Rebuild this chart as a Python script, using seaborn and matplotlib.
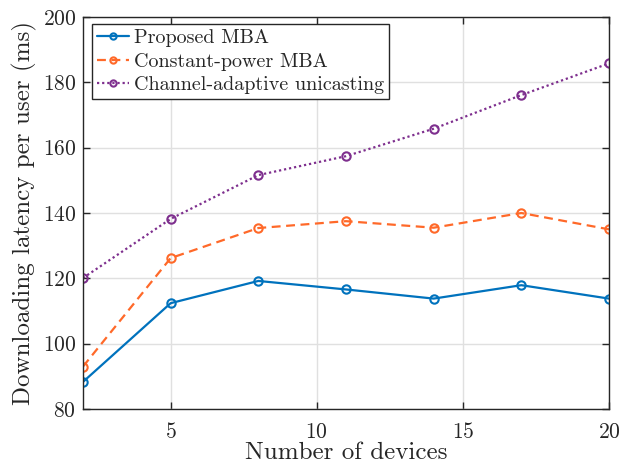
import matplotlib
matplotlib.use("Agg")
import matplotlib.pyplot as plt
import seaborn as sns
import pandas as pd

# Latency per user versus number of devices for the three schemes
devices = [2, 5, 8, 11, 14, 17, 20]
proposed_mba = [88.3, 112.4, 119.2, 116.6, 113.8, 117.9, 113.8]
constant_power_mba = [93.0, 126.2, 135.4, 137.5, 135.5, 140.0, 135.0]
channel_adaptive = [120.1, 138.2, 151.6, 157.4, 165.8, 176.1, 185.8]

series_names = ["Proposed MBA", "Constant-power MBA", "Channel-adaptive unicasting"]
x_ticks = [5, 10, 15, 20]
y_ticks = [80, 100, 120, 140, 160, 180, 200]

df = pd.DataFrame({
    "devices": devices * 3,
    "latency": proposed_mba + constant_power_mba + channel_adaptive,
    "scheme": [series_names[0]] * len(devices)
              + [series_names[1]] * len(devices)
              + [series_names[2]] * len(devices),
})

sns.set_style("ticks")
plt.rcParams["font.family"] = ["cmr10", "DejaVu Serif"]
plt.rcParams["mathtext.fontset"] = "cm"
plt.rcParams["axes.formatter.use_mathtext"] = True

palette = {series_names[0]: "#0072BD",
           series_names[1]: "#FF6929",
           series_names[2]: "#7E2F8E"}
dashes = {series_names[0]: "",
          series_names[1]: (4, 2.5),
          series_names[2]: (1, 1.3)}

fig = plt.figure(figsize=(6.25, 4.66), dpi=100)
ax = fig.add_axes([0.1328, 0.1223, 0.8416, 0.8412])

sns.lineplot(data=df, x="devices", y="latency", hue="scheme", style="scheme",
             palette=palette, dashes=dashes, markers={n: "o" for n in series_names},
             markersize=6, markerfacecolor="none", markeredgewidth=1.5,
             linewidth=1.6, ax=ax, legend=True)

# open circle markers in each series colour
for line, name in zip(ax.lines, series_names):
    line.set_markeredgecolor(palette[name])
    line.set_markerfacecolor("none")

ax.set_xlim(2, 20)
ax.set_ylim(80, 200)
ax.set_xticks(x_ticks)
ax.set_yticks(y_ticks)
ax.grid(True, color="#e0e0e0", linewidth=1.0)
ax.set_axisbelow(True)
for side in ["top", "right", "left", "bottom"]:
    ax.spines[side].set_visible(True)
    ax.spines[side].set_color("#262626")
    ax.spines[side].set_linewidth(1.0)
ax.tick_params(direction="in", length=5, width=1.0, top=True, right=True,
               labelsize=15.5, colors="#262626", labelcolor="#262626")
ax.tick_params(axis="x", pad=9.5)
ax.tick_params(axis="y", pad=5)

ax.set_xlabel("Number of devices", fontsize=18, color="#262626", labelpad=0)
ax.set_ylabel("Downloading latency per user (ms)", fontsize=18, color="#262626", labelpad=4)

handles, labels = ax.get_legend_handles_labels()
for h, name in zip(handles, labels):
    h.set_markerfacecolor("none")
    h.set_markeredgecolor(palette[name])
    h.set_markersize(4.5)
leg = ax.legend(handles, labels, loc="upper left", bbox_to_anchor=(0.0171, 0.982),
                fontsize=14.5, frameon=True, fancybox=False, edgecolor="#262626",
                framealpha=1, handlelength=1.6, handletextpad=0.25,
                labelspacing=0.27, borderpad=0.25, borderaxespad=0.0)
leg.get_frame().set_linewidth(1.0)

fig.savefig("out.png", dpi=100)
